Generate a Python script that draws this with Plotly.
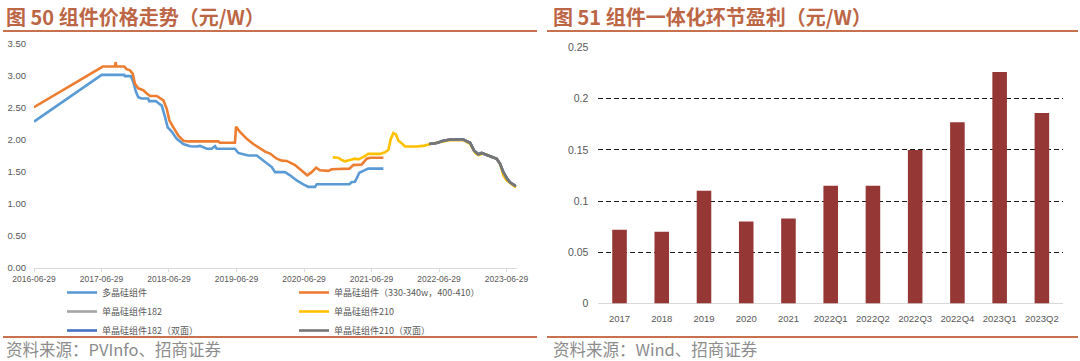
import plotly.graph_objects as go

# ---------------- Left chart data: 组件价格走势（元/W） ----------------
poly_dates = ["2016-06-29", "2017-06-30", "2017-10-30", "2017-11-03", "2017-12-05", "2017-12-18",
              "2018-01-02", "2018-01-14", "2018-02-01", "2018-03-08", "2018-03-14", "2018-04-19",
              "2018-05-02", "2018-05-21", "2018-06-08", "2018-06-22", "2018-07-14", "2018-08-10",
              "2018-09-15", "2018-10-21", "2018-11-26", "2018-12-14", "2019-01-19", "2019-02-15",
              "2019-03-05", "2019-03-14", "2019-06-21", "2019-07-09", "2019-08-05", "2019-09-01",
              "2019-10-17", "2019-11-21", "2020-01-06", "2020-01-24", "2020-03-18", "2020-04-14",
              "2020-05-20", "2020-06-25", "2020-07-22", "2020-08-27", "2020-09-05", "2021-03-01",
              "2021-03-14", "2021-03-31", "2021-04-13", "2021-04-24", "2021-05-15", "2021-06-11",
              "2021-09-01"]
poly_vals = [2.28, 3.01, 3.01, 2.99, 2.99, 2.90,
             2.74, 2.66, 2.64, 2.64, 2.60, 2.60,
             2.57, 2.53, 2.35, 2.19, 2.125, 2.01,
             1.93, 1.895, 1.89, 1.90, 1.855, 1.855,
             1.895, 1.855, 1.855, 1.79, 1.77, 1.75,
             1.75, 1.67, 1.57, 1.49, 1.49, 1.44,
             1.36, 1.30, 1.26, 1.26, 1.30, 1.30,
             1.335, 1.34, 1.415, 1.48, 1.51, 1.545,
             1.545]

mono_dates = ["2016-06-29", "2017-07-06", "2017-09-10", "2017-09-14", "2017-09-17", "2017-10-30",
              "2017-11-12", "2017-11-30", "2017-12-15", "2017-12-27", "2018-01-14", "2018-02-10",
              "2018-03-01", "2018-03-19", "2018-04-24", "2018-05-12", "2018-05-30", "2018-06-17",
              "2018-07-01", "2018-07-23", "2018-08-19", "2018-09-15", "2018-10-12", "2019-03-23",
              "2019-04-01", "2019-06-21", "2019-06-27", "2019-07-18", "2019-08-24", "2019-09-28",
              "2019-11-04", "2019-12-01", "2019-12-28", "2020-02-02", "2020-02-29", "2020-03-27",
              "2020-05-11", "2020-06-16", "2020-07-16", "2020-08-09", "2020-09-02", "2020-09-23",
              "2020-11-07", "2020-11-25", "2021-03-01", "2021-03-22", "2021-05-07", "2021-06-03",
              "2021-06-21", "2021-09-01"]
mono_vals = [2.505, 3.14, 3.14, 3.21, 3.14, 3.14,
             3.10, 3.08, 3.03, 2.87, 2.80, 2.77,
             2.72, 2.68, 2.68, 2.64, 2.61, 2.48,
             2.30, 2.19, 2.06, 1.98, 1.97, 1.97,
             1.95, 1.95, 2.20, 2.12, 2.01, 1.93,
             1.86, 1.81, 1.78, 1.70, 1.67, 1.665,
             1.60, 1.52, 1.44, 1.49, 1.56, 1.52,
             1.51, 1.535, 1.545, 1.60, 1.61, 1.70,
             1.715, 1.715]

m210_dates = ["2020-12-01", "2020-12-31", "2021-01-19", "2021-02-05", "2021-03-04", "2021-03-31",
              "2021-04-18", "2021-05-15", "2021-06-11", "2021-08-14", "2021-09-10", "2021-09-28",
              "2021-10-11", "2021-10-25", "2021-11-08", "2021-11-21", "2021-12-09", "2021-12-27",
              "2022-02-28", "2022-04-05", "2022-05-11", "2022-07-22", "2022-08-27", "2022-11-07",
              "2022-12-14", "2023-01-10", "2023-01-27", "2023-02-24", "2023-04-01", "2023-05-07",
              "2023-05-25", "2023-06-12", "2023-06-30", "2023-07-18", "2023-08-19"]
m210_vals = [1.72, 1.715, 1.68, 1.66, 1.68, 1.70,
             1.69, 1.725, 1.775, 1.775, 1.80, 1.84,
             2.01, 2.10, 2.08, 1.98, 1.94, 1.89,
             1.89, 1.90, 1.93, 1.975, 1.99, 1.99,
             1.93, 1.79, 1.755, 1.78, 1.74, 1.70,
             1.62, 1.44, 1.36, 1.32, 1.25]

bif_dates = ["2022-05-07", "2022-06-16", "2022-07-22", "2022-08-27", "2022-11-07", "2022-12-14",
             "2023-01-04", "2023-01-27", "2023-02-14", "2023-04-01", "2023-05-07", "2023-05-25",
             "2023-06-12", "2023-07-04", "2023-07-18", "2023-08-19"]
m182_vals = [1.93, 1.945, 1.98, 2.00, 2.00, 1.95,
             1.83, 1.77, 1.79, 1.745, 1.70, 1.62,
             1.49, 1.38, 1.33, 1.27]
m182_bif_vals = [1.93, 1.945, 1.98, 2.00, 2.00, 1.95,
                 1.83, 1.77, 1.79, 1.745, 1.70, 1.62,
                 1.49, 1.38, 1.33, 1.27]
m210_bif_vals = [1.93, 1.945, 1.98, 2.00, 2.00, 1.95,
                 1.83, 1.77, 1.79, 1.745, 1.70, 1.62,
                 1.49, 1.38, 1.33, 1.27]

left_tick_dates = ["2016-06-29", "2017-06-29", "2018-06-29", "2019-06-29",
                   "2020-06-29", "2021-06-29", "2022-06-29", "2023-06-29"]

# ---------------- Right chart data: 组件一体化环节盈利（元/W） ----------------
profit_cats = ["2017", "2018", "2019", "2020", "2021", "2022Q1", "2022Q2",
               "2022Q3", "2022Q4", "2023Q1", "2023Q2"]
profit_vals = [0.072, 0.070, 0.110, 0.080, 0.083, 0.115, 0.115,
               0.150, 0.177, 0.226, 0.186]

# ---------------- styling ----------------
W, H = 1080, 361
NUM_FONT = "Liberation Sans, Arial, sans-serif"
CJK_FONT = "Noto Sans CJK SC, sans-serif"
TITLE_COLOR = "#BC6646"
RULE_COLOR = "#C8714F"
AXIS_GRAY = "#D9D9D9"
LABEL_GRAY = "#595959"


def px(x):
    return x / W


def py(y):
    return 1 - y / H


fig = go.Figure()

series = [
    ("多晶硅组件", poly_dates, poly_vals, "#5B9BD5", "legend"),
    ("单晶硅组件（330-340w，400-410）", mono_dates, mono_vals, "#ED7D31", "legend2"),
    ("单晶硅组件182", bif_dates, m182_vals, "#A5A5A5", "legend"),
    ("单晶硅组件210", m210_dates, m210_vals, "#FFC000", "legend2"),
    ("单晶硅组件182（双面）", bif_dates, m182_bif_vals, "#4472C4", "legend"),
    ("单晶硅组件210（双面）", bif_dates, m210_bif_vals, "#767676", "legend2"),
]
for name, xs, ys, color, leg in series:
    fig.add_trace(go.Scatter(
        x=xs, y=ys, name=name, mode="lines",
        line=dict(color=color, width=2.6, shape="linear"),
        xaxis="x", yaxis="y", legend=leg, hoverinfo="skip",
    ))

fig.add_trace(go.Bar(
    x=profit_cats, y=profit_vals, marker=dict(color="#953735", line=dict(width=0)),
    xaxis="x2", yaxis="y2", showlegend=False, hoverinfo="skip",
))

fig.update_layout(
    width=W, height=H,
    margin=dict(l=0, r=0, t=0, b=0, autoexpand=False),
    paper_bgcolor="white", plot_bgcolor="white",
    bargap=0.655,
    font=dict(family=NUM_FONT, color=LABEL_GRAY),
    xaxis=dict(
        domain=[px(34), px(516.7)], anchor="y", type="date", automargin=False,
        range=["2016-06-29", "2023-08-23"],
        tickvals=left_tick_dates, tickformat="%Y-%m-%d",
        showgrid=False, zeroline=False,
        showline=True, linecolor=AXIS_GRAY, linewidth=1,
        ticks="outside", ticklen=3, tickcolor=AXIS_GRAY,
        tickfont=dict(size=8.5, color=LABEL_GRAY, family=NUM_FONT),
        ticklabelstandoff=0,
    ),
    yaxis=dict(
        domain=[py(267.5), py(43.5)], anchor="x", automargin=False,
        range=[0, 3.5], tickvals=[0, 0.5, 1, 1.5, 2, 2.5, 3, 3.5], tickformat=".2f",
        showgrid=False, zeroline=False, showline=False,
        tickfont=dict(size=9.5, color=LABEL_GRAY, family=NUM_FONT),
        ticklabelstandoff=7,
    ),
    xaxis2=dict(
        domain=[px(598.4), px(1063)], anchor="y2", type="category", automargin=False,
        showgrid=False, showline=False, ticks="", tickangle=0,
        tickfont=dict(size=9.5, color=LABEL_GRAY, family=NUM_FONT),
        ticklabelstandoff=8,
    ),
    yaxis2=dict(
        domain=[py(303.5), py(47.0)], anchor="x2", automargin=False,
        range=[0, 0.2505], dtick=0.05, tick0=0,
        showgrid=True, gridcolor="#1A1A1A", gridwidth=1, griddash="5px,3px",
        zeroline=True, zerolinecolor=AXIS_GRAY, zerolinewidth=1.2,
        showline=False,
        tickfont=dict(size=10.5, color=LABEL_GRAY, family=NUM_FONT),
        ticklabelstandoff=9,
    ),
    legend=dict(
        x=px(62), y=py(278), xanchor="left", yanchor="top",
        orientation="v", bgcolor="rgba(0,0,0,0)", borderwidth=0,
        font=dict(size=9, family=CJK_FONT, color=LABEL_GRAY),
        itemwidth=30, tracegroupgap=0, traceorder="normal",
    ),
    legend2=dict(
        x=px(294), y=py(278), xanchor="left", yanchor="top",
        orientation="v", bgcolor="rgba(0,0,0,0)", borderwidth=0,
        font=dict(size=9, family=CJK_FONT, color=LABEL_GRAY),
        itemwidth=30, tracegroupgap=0, traceorder="normal",
    ),
)

# Titles
fig.add_annotation(text="<b>图 50 组件价格走势（元/W）</b>", x=px(4), y=py(16),
                   xref="paper", yref="paper", xanchor="left", yanchor="middle",
                   showarrow=False, font=dict(size=20, family=CJK_FONT, color=TITLE_COLOR))
fig.add_annotation(text="<b>图 51 组件一体化环节盈利（元/W）</b>", x=px(551), y=py(16),
                   xref="paper", yref="paper", xanchor="left", yanchor="middle",
                   showarrow=False, font=dict(size=20, family=CJK_FONT, color=TITLE_COLOR))
# Sources
fig.add_annotation(text="资料来源：PVInfo、招商证券", x=px(4), y=py(348.5),
                   xref="paper", yref="paper", xanchor="left", yanchor="middle",
                   showarrow=False, font=dict(size=16.5, family=CJK_FONT, color="#8C8C8C"))
fig.add_annotation(text="资料来源：Wind、招商证券", x=px(551), y=py(348.5),
                   xref="paper", yref="paper", xanchor="left", yanchor="middle",
                   showarrow=False, font=dict(size=16.5, family=CJK_FONT, color="#8C8C8C"))

# Rules under titles and above sources
for (x0, x1) in [(3, 537), (547, 1078)]:
    for yy in (31, 337):
        fig.add_shape(type="line", xref="paper", yref="paper",
                      x0=px(x0), x1=px(x1), y0=py(yy), y1=py(yy),
                      line=dict(color=RULE_COLOR, width=2))

fig.write_html("out.html",
               config={"displayModeBar": False},
               post_script="document.body.style.margin='0px';document.body.style.overflow='hidden';")
